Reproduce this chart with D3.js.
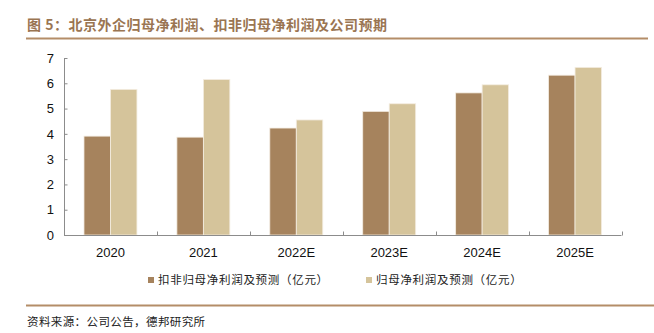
<!DOCTYPE html>
<html><head><meta charset="utf-8">
<script src="https://cdn.jsdelivr.net/npm/d3@7"></script>
<style>
body{margin:0;background:#fff;}
svg{display:block;}
</style></head>
<body>
<svg id="chart" width="654" height="333"></svg>
<script>
const categories = ["2020","2021","2022E","2023E","2024E","2025E"];
const seriesNames = ["扣非归母净利润及预测（亿元）","归母净利润及预测（亿元）"];
const deductedProfit = [3.91, 3.87, 4.23, 4.89, 5.62, 6.32];
const netProfit = [5.76, 6.15, 4.55, 5.19, 5.94, 6.63];
const yTicks = [0,1,2,3,4,5,6,7];
const titleText = "图 5：北京外企归母净利润、扣非归母净利润及公司预期";
const sourceText = "资料来源：公司公告，德邦研究所";

const colors = ["#a6835d","#d5c49b"];
const svg = d3.select("#chart");
const cjk = "'Noto Sans CJK SC', sans-serif";

// title
svg.append("text").attr("x",27).attr("y",30).text(titleText)
  .attr("font-family",cjk).attr("font-size",14).attr("font-weight","bold")
  .attr("letter-spacing",0.5).attr("fill","#9a7552");
svg.append("line").attr("x1",26).attr("x2",648).attr("y1",38.5).attr("y2",38.5)
  .attr("stroke","#b48d68").attr("stroke-width",2);

const x0 = d3.scaleBand().domain(categories).range([64,621.5]).paddingInner(0).paddingOuter(0);
const bw = x0.bandwidth();
const x1 = d3.scaleBand().domain([0,1]).range([bw*0.215, bw*0.785]).padding(0);
const y = d3.scaleLinear().domain([0,7]).range([235,58]);

const g = svg.append("g");
const data = categories.map((c,i)=>({c, v:[deductedProfit[i], netProfit[i]]}));
g.selectAll("g.cat").data(data).join("g").attr("class","cat")
  .attr("transform",d=>`translate(${x0(d.c)},0)`)
  .selectAll("rect").data(d=>d.v.map((v,k)=>({v,k}))).join("rect")
  .attr("x",d=>x1(d.k)).attr("width",x1.bandwidth())
  .attr("y",d=>y(d.v)).attr("height",d=>y(0)-y(d.v))
  .attr("fill",d=>colors[d.k]).attr("stroke","#f4ede2").attr("stroke-width",0.8);

// y axis
const yAxis = d3.axisLeft(y).tickValues(yTicks).tickSize(-3).tickPadding(10).tickFormat(d3.format("d"));
const ya = svg.append("g").attr("transform","translate(64,0)").call(yAxis);
ya.select(".domain").attr("stroke","#8c8c8c").attr("d","M0.5,58V235.5");
ya.selectAll(".tick line").attr("stroke","#8c8c8c").attr("transform","translate(0.5,0)");
ya.selectAll("text").attr("font-family","'Liberation Sans', Arial, sans-serif").attr("font-size",13).attr("fill","#111");

// x axis
const xa = svg.append("g").attr("transform","translate(0,235.5)");
xa.append("line").attr("x1",64).attr("x2",621.5).attr("y1",0).attr("y2",0).attr("stroke","#8c8c8c");
const bounds = categories.map(c=>x0(c)+x0.bandwidth());
xa.selectAll("line.t").data(bounds).join("line").attr("class","t")
  .attr("x1",d=>Math.round(d)+0.5).attr("x2",d=>Math.round(d)+0.5).attr("y1",0).attr("y2",-4).attr("stroke","#8c8c8c");
xa.selectAll("text").data(categories).join("text")
  .attr("x",d=>x0(d)+x0.bandwidth()/2).attr("y",21).attr("text-anchor","middle")
  .attr("font-family","'Liberation Sans', Arial, sans-serif").attr("font-size",13).attr("fill","#111").text(d=>d);

// legend
const legX = [148, 366];
seriesNames.forEach((n,i)=>{
  svg.append("rect").attr("x",legX[i]).attr("y",277).attr("width",6).attr("height",6).attr("fill",colors[i]);
  svg.append("text").attr("x",legX[i]+10).attr("y",284).text(n)
    .attr("font-family",cjk).attr("font-size",11.5).attr("letter-spacing",0.7).attr("fill","#222");
});

// footer
svg.append("line").attr("x1",26).attr("x2",654).attr("y1",305.5).attr("y2",305.5)
  .attr("stroke","#b48d68").attr("stroke-width",2);
svg.append("text").attr("x",27).attr("y",326).text(sourceText)
  .attr("font-family",cjk).attr("font-size",11.5).attr("letter-spacing",0.4).attr("fill","#222");
</script>
</body></html>
